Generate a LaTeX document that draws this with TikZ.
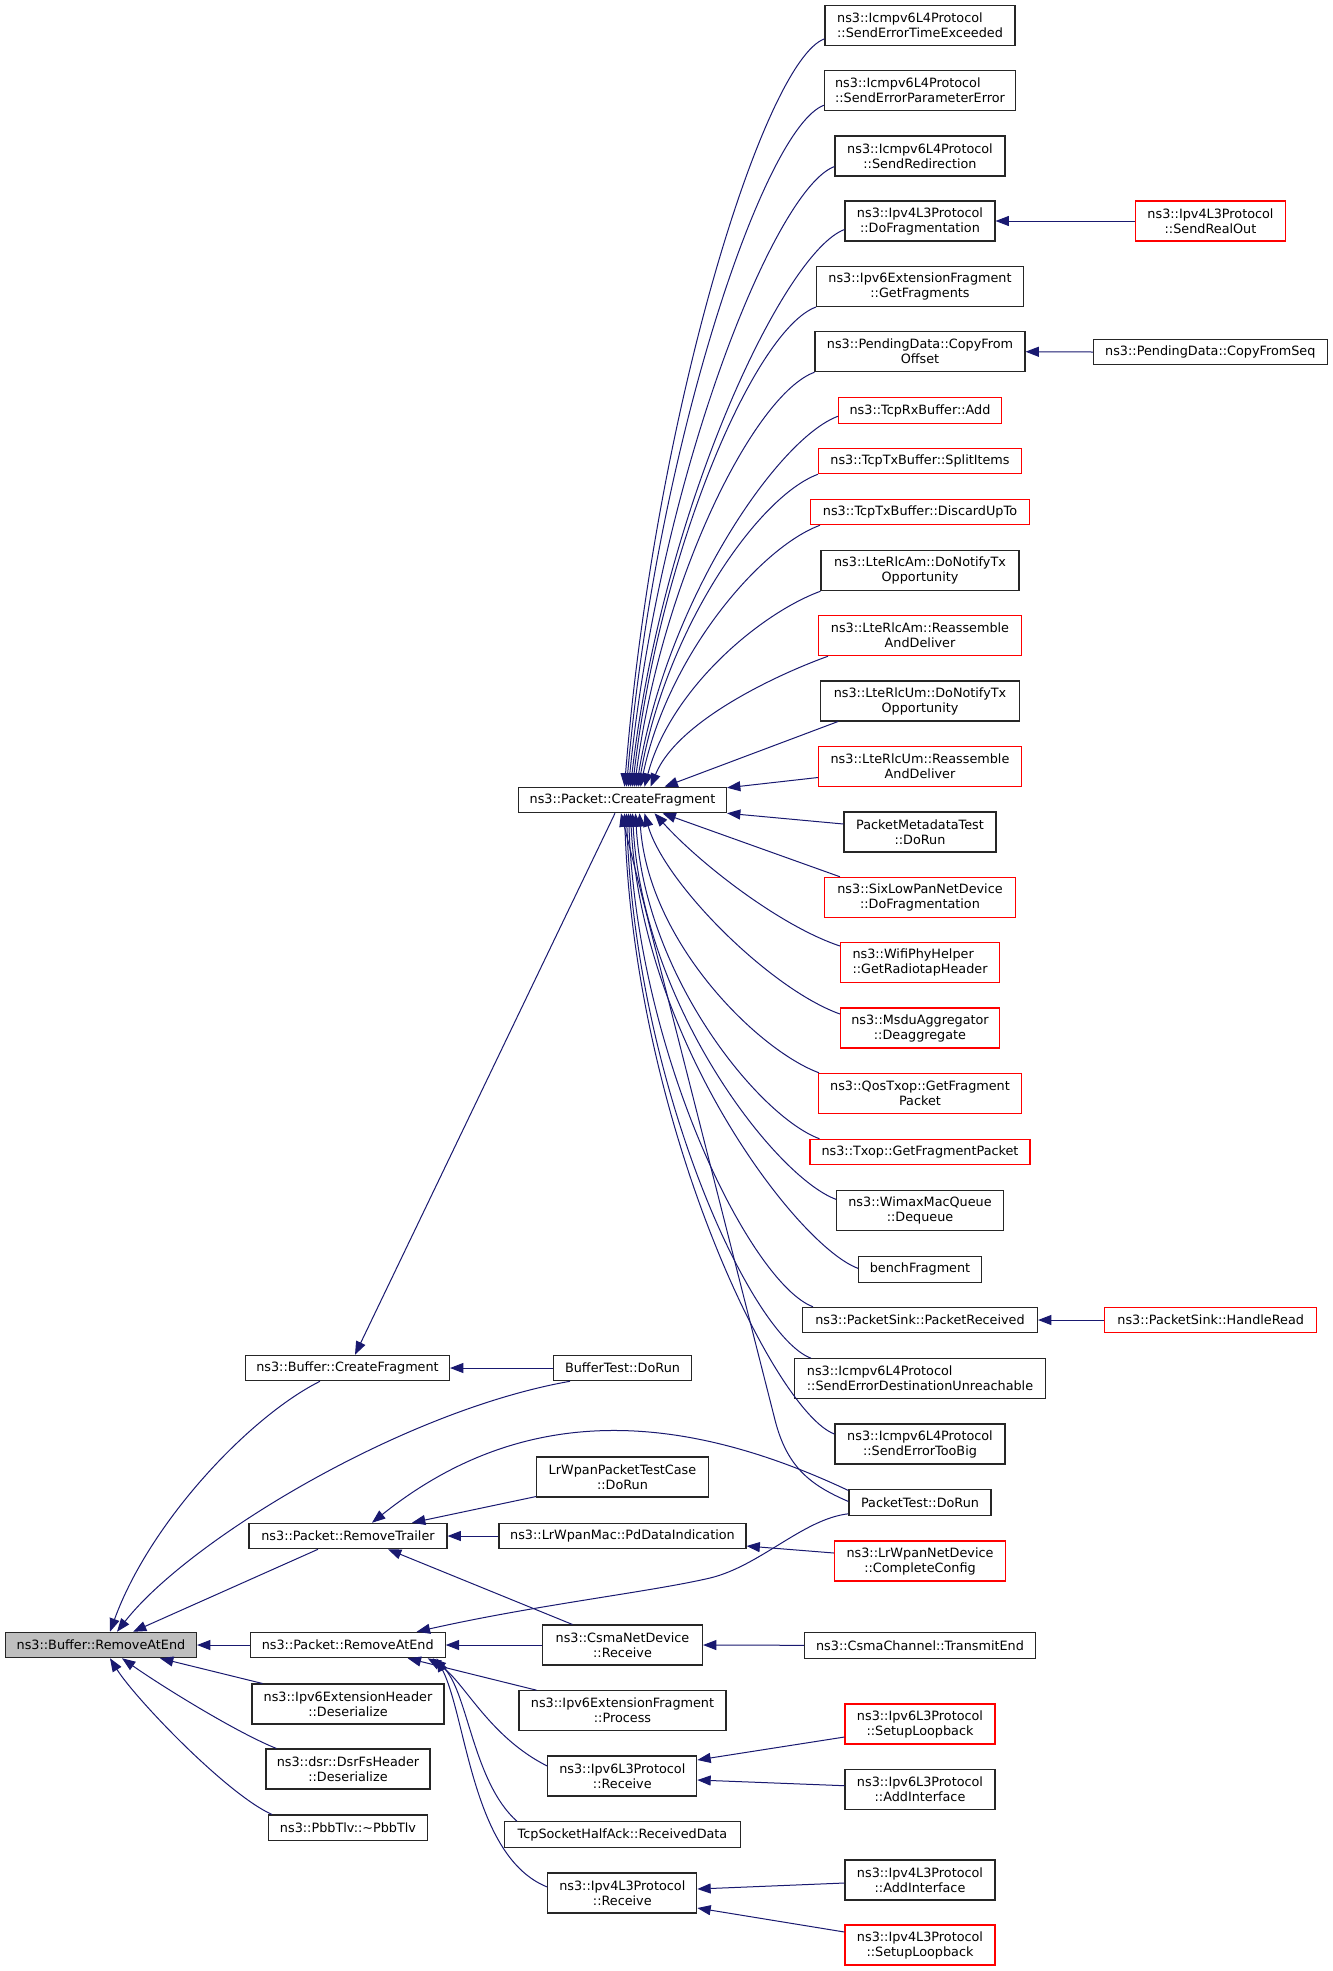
\documentclass[tikz,border=0pt]{standalone}
\usepackage{fontspec}
\setmainfont{DejaVu Sans}
\usetikzlibrary{arrows.meta,calc}
\definecolor{mblue}{RGB}{25,25,112}
\definecolor{nred}{RGB}{255,0,0}
\newcommand\gfont{\fontsize{9.6pt}{11.25pt}\selectfont}
\begin{document}
\begin{tikzpicture}[x=0.75pt,y=-0.75pt,
  nbox/.style={draw=black!85,line width=0.8pt,fill=white,inner sep=0pt,minimum height=19.1pt,font=\gfont,align=center,text=black},
  two/.style={minimum height=30pt},
  bw/.style={minimum width=#1*0.75pt},
  redb/.style={draw=nred},
  lft/.style={align=left},
  conn/.style={draw=mblue,line width=0.75pt,>={Triangle[length=10pt,width=7.5pt]},<-}]
\path[use as bounding box,fill=white] (0,0) rectangle (1333,1971);

% column 0
\node[nbox,bw=191,fill=black!25] (rae) at (101,1645) {ns3::Buffer::RemoveAtEnd};

% column 1
\node[nbox,bw=204] (bcf) at (347.5,1368) {ns3::Buffer::CreateFragment};
\node[nbox,bw=198] (rtr) at (348,1536) {ns3::Packet::RemoveTrailer};
\node[nbox,bw=195] (prae) at (347.7,1645) {ns3::Packet::RemoveAtEnd};
\node[nbox,two,bw=192] (v6eh) at (348,1704) {ns3::Ipv6ExtensionHeader\\::Deserialize};
\node[nbox,two,bw=164] (dsr) at (348,1769) {ns3::dsr::DsrFsHeader\\::Deserialize};
\node[nbox,bw=159] (pbb) at (348,1827.7) {ns3::PbbTlv::\textasciitilde PbbTlv};

% column 2
\node[nbox,bw=208] (pcf) at (622.5,800) {ns3::Packet::CreateFragment};
\node[nbox,bw=138] (btest) at (622.5,1368) {BufferTest::DoRun};
\node[nbox,two,bw=172] (lrtc) at (622.5,1477) {LrWpanPacketTestCase\\::DoRun};
\node[nbox,bw=247] (pdi) at (622.5,1536) {ns3::LrWpanMac::PdDataIndication};
\node[nbox,two,bw=160] (csma) at (622.5,1645) {ns3::CsmaNetDevice\\::Receive};
\node[nbox,two,bw=207] (v6fp) at (622.5,1710.7) {ns3::Ipv6ExtensionFragment\\::Process};
\node[nbox,two,bw=149] (v6r) at (622.3,1776) {ns3::Ipv6L3Protocol\\::Receive};
\node[nbox,bw=236] (tcpha) at (622.5,1834.5) {TcpSocketHalfAck::ReceivedData};
\node[nbox,two,bw=149] (v4r) at (622.3,1893) {ns3::Ipv4L3Protocol\\::Receive};

% column 3
\node[nbox,two,lft,bw=190] (tex) at (920,25.3) {ns3::Icmpv6L4Protocol\\::SendErrorTimeExceeded};
\node[nbox,two,lft,bw=191] (par) at (920,90.7) {ns3::Icmpv6L4Protocol\\::SendErrorParameterError};
\node[nbox,two,bw=170] (redir) at (920,156) {ns3::Icmpv6L4Protocol\\::SendRedirection};
\node[nbox,two,bw=150] (dofrag) at (920,221) {ns3::Ipv4L3Protocol\\::DoFragmentation};
\node[nbox,two,bw=207] (getfrag) at (920,286.5) {ns3::Ipv6ExtensionFragment\\::GetFragments};
\node[nbox,two,bw=210] (copyoff) at (920,351.7) {ns3::PendingData::CopyFrom\\Offset};
\node[nbox,redb,bw=163] (tcprx) at (920,410.5) {ns3::TcpRxBuffer::Add};
\node[nbox,redb,bw=203] (split) at (920,461) {ns3::TcpTxBuffer::SplitItems};
\node[nbox,redb,bw=219] (discard) at (920,512) {ns3::TcpTxBuffer::DiscardUpTo};
\node[nbox,two,bw=198] (amtx) at (920,570.7) {ns3::LteRlcAm::DoNotifyTx\\Opportunity};
\node[nbox,two,redb,bw=203] (amre) at (920,635.7) {ns3::LteRlcAm::Reassemble\\AndDeliver};
\node[nbox,two,bw=199] (umtx) at (920,701) {ns3::LteRlcUm::DoNotifyTx\\Opportunity};
\node[nbox,two,redb,bw=203] (umre) at (920,766.5) {ns3::LteRlcUm::Reassemble\\AndDeliver};
\node[nbox,two,bw=152] (pmt) at (920,832) {PacketMetadataTest\\::DoRun};
\node[nbox,two,redb,bw=191] (six) at (920,897.3) {ns3::SixLowPanNetDevice\\::DoFragmentation};
\node[nbox,two,redb,lft,bw=159] (wifi) at (920,962.7) {ns3::WifiPhyHelper\\::GetRadiotapHeader};
\node[nbox,two,redb,bw=159] (msdu) at (920,1028) {ns3::MsduAggregator\\::Deaggregate};
\node[nbox,two,redb,bw=203] (qos) at (920,1093.3) {ns3::QosTxop::GetFragment\\Packet};
\node[nbox,redb,bw=220] (txop) at (920,1152) {ns3::Txop::GetFragmentPacket};
\node[nbox,two,bw=167] (wimax) at (920,1210.3) {ns3::WimaxMacQueue\\::Dequeue};
\node[nbox,bw=123] (bench) at (920,1269.3) {benchFragment};
\node[nbox,bw=235] (sink) at (920,1320) {ns3::PacketSink::PacketReceived};
\node[nbox,two,lft,bw=251] (dest) at (920,1378.7) {ns3::Icmpv6L4Protocol\\::SendErrorDestinationUnreachable};
\node[nbox,two,bw=170] (toobig) at (920,1444) {ns3::Icmpv6L4Protocol\\::SendErrorTooBig};
\node[nbox,bw=142] (ptest) at (920,1502.5) {PacketTest::DoRun};
\node[nbox,two,redb,bw=171] (cc) at (920,1561) {ns3::LrWpanNetDevice\\::CompleteConfig};
\node[nbox,bw=231] (cte) at (920,1645.3) {ns3::CsmaChannel::TransmitEnd};
\node[nbox,two,redb,bw=150] (v6sl) at (920,1724) {ns3::Ipv6L3Protocol\\::SetupLoopback};
\node[nbox,two,bw=150] (v6ai) at (920,1789.3) {ns3::Ipv6L3Protocol\\::AddInterface};
\node[nbox,two,bw=150] (v4ai) at (920,1880) {ns3::Ipv4L3Protocol\\::AddInterface};
\node[nbox,two,redb,bw=150] (v4sl) at (920,1945) {ns3::Ipv4L3Protocol\\::SetupLoopback};

% column 4
\node[nbox,two,redb,bw=150] (sro) at (1210.5,221) {ns3::Ipv4L3Protocol\\::SendRealOut};
\node[nbox,bw=234] (cfs) at (1210.3,352) {ns3::PendingData::CopyFromSeq};
\node[nbox,redb,bw=212] (hr) at (1210.7,1320) {ns3::PacketSink::HandleRead};

% ---- connectors into RemoveAtEnd
\draw[conn] ($(rae.north)+(9,0)$) .. controls +(40,-110) and +(-70,35) .. ($(bcf.south)+(-27.5,0)$);
\draw[conn] ($(rae.north)+(16,0)$) .. controls +(70,-90) and +(-170,30) .. ($(btest.south)+(-52.5,0)$);
\draw[conn] ($(rae.north)+(32,0)$) -- ($(rtr.south)+(-30,0)$);
\draw[conn] (rae.east) -- (prae.west);
\draw[conn] ($(rae.south)+(59,0)$) -- ($(v6eh.north west)+(11,0)$);
\draw[conn] ($(rae.south)+(21,0)$) .. controls +(40,28) and +(-40,-16) .. ($(dsr.north west)+(11,0)$);
\draw[conn] ($(rae.south)+(9,0)$) .. controls +(25,40) and +(-45,-20) .. ($(pbb.north west)+(4,0)$);

% ---- Buffer::CreateFragment
\draw[conn] ($(bcf.north)+(7.5,0)$) -- ($(pcf.south)+(-7.5,0)$);
\draw[conn] (bcf.east) -- (btest.west);

% ---- Packet::RemoveTrailer
\draw[conn] ($(rtr.north)+(24,0)$) .. controls +(150,-120) and +(-170,-80) .. ($(ptest.west)+(0,-12)$);
\draw[conn] ($(rtr.north)+(64,0)$) -- ($(lrtc.south west)+(0,-1)$);
\draw[conn] (rtr.east) -- (pdi.west);
\draw[conn] ($(rtr.south)+(40,0)$) -- ($(csma.north)+(-50,0)$);
\draw[conn] ($(pdi.east)+(0,10)$) -- ($(cc.west)+(0,-8)$);

% ---- Packet::RemoveAtEnd
\draw[conn] ($(prae.north)+(69,0)$) .. controls +(120,-27) and +(-60,14) .. (710,1578)
  .. controls +(50,-12) and +(-45,5) .. ($(ptest.south west)+(0,-2)$);
\draw[conn] (prae.east) -- (csma.west);
\draw[conn] ($(prae.south)+(60,0)$) -- ($(v6fp.north west)+(18,0)$);
\draw[conn] ($(prae.south)+(80,0)$) .. controls +(35,20) and +(-60,-30) .. ($(v6r.west)+(0,-10)$);
\draw[conn] ($(prae.south)+(85,0)$) .. controls +(35,30) and +(-45,-40) .. ($(tcpha.north west)+(13,0)$);
\draw[conn] ($(prae.south)+(89,0)$) .. controls +(30,60) and +(-75,-30) .. ($(v4r.west)+(0,-6)$);

% ---- column 2 -> column 3 (simple)
\draw[conn] (csma.east) -- (cte.west);
\draw[conn] ($(v6r.east)+(0,-16)$) -- ($(v6sl.west)+(0,13)$);
\draw[conn] ($(v6r.east)+(0,4)$) -- ($(v6ai.west)+(0,-3.6)$);
\draw[conn] ($(v4r.east)+(0,-4)$) -- ($(v4ai.west)+(0,3)$);
\draw[conn] ($(v4r.east)+(0,15)$) -- ($(v4sl.west)+(0,-13)$);

% ---- column 3 -> column 4
\draw[conn] (dofrag.east) -- (sro.west);
\draw[conn] (copyoff.east) -- (cfs.west);
\draw[conn] (sink.east) -- (hr.west);

% ---- fan of Packet::CreateFragment (upper)
\draw[conn] ($(pcf.north)+(2,0)$) .. controls +(30,-374) and +(-60,22) .. ($(tex.south west)+(0,-7)$);
\draw[conn] ($(pcf.north)+(4,0)$) .. controls +(30,-341) and +(-60,22) .. ($(par.south west)+(0,-6)$);
\draw[conn] ($(pcf.north)+(6,0)$) .. controls +(31,-310) and +(-60,22) .. ($(redir.south west)+(0,-10)$);
\draw[conn] ($(pcf.north)+(8,0)$) .. controls +(32,-279) and +(-60,22) .. ($(dofrag.south west)+(0,-12)$);
\draw[conn] ($(pcf.north)+(10,0)$) .. controls +(28,-240) and +(-60,22) .. (getfrag.south west);
\draw[conn] ($(pcf.north)+(12,0)$) .. controls +(27,-208) and +(-60,22) .. (copyoff.south west);
\draw[conn] ($(pcf.north)+(14,0)$) .. controls +(30,-186) and +(-60,22) .. ($(tcprx.south west)+(0,-7.5)$);
\draw[conn] ($(pcf.north)+(16,0)$) .. controls +(27,-157) and +(-60,22) .. (split.south west);
\draw[conn] ($(pcf.north)+(18,0)$) .. controls +(27,-131) and +(-60,22) .. ($(discard.south west)+(10,0)$);
\draw[conn] ($(pcf.north)+(22,0)$) .. controls +(26,-98) and +(-60,22) .. (amtx.south west);
\draw[conn] ($(pcf.north)+(28,0)$) .. controls +(27,-66) and +(-50,18) .. ($(amre.south west)+(10,0)$);
\draw[conn] ($(pcf.north)+(42,0)$) -- ($(umtx.south west)+(18,0)$);
\draw[conn] ($(pcf.north east)+(0,1)$) -- ($(umre.west)+(0,11)$);

% ---- fan of Packet::CreateFragment (lower)
\draw[conn] (pcf.south east) -- ($(pmt.west)+(0,-8)$);
\draw[conn] ($(pcf.south)+(40,0)$) -- ($(six.north west)+(16,0)$);
\draw[conn] ($(pcf.south)+(32,0)$) .. controls +(45,50) and +(-60,-20) .. ($(wifi.west)+(0,-16.7)$);
\draw[conn] ($(pcf.south)+(22,0)$) .. controls +(20,70) and +(-70,-25) .. ($(msdu.west)+(0,-14)$);
\draw[conn] ($(pcf.south)+(17,0)$) .. controls +(9,130) and +(-60,-22) .. ($(qos.north west)+(1,0)$);
\draw[conn] ($(pcf.south)+(13,0)$) .. controls +(9,163) and +(-60,-22) .. ($(txop.north west)+(10,0)$);
\draw[conn] ($(pcf.south)+(10,0)$) .. controls +(10,193) and +(-60,-22) .. ($(wimax.west)+(0,-11)$);
\draw[conn] ($(pcf.south)+(8,0)$) .. controls +(11,228) and +(-60,-22) .. ($(bench.west)+(0,-1)$);
\draw[conn] ($(pcf.south)+(6,0)$) .. controls +(9,247) and +(-60,-22) .. ($(sink.north west)+(11,0)$);
\draw[conn] ($(pcf.south)+(4,0)$) .. controls +(9,273) and +(-60,-22) .. ($(dest.north west)+(17,0)$);
\draw[conn] ($(pcf.south)+(2,0)$) .. controls +(10,311) and +(-60,-22) .. ($(toobig.west)+(0,-10)$);
\draw[conn] ($(pcf.south)+(-1.5,0)$) -- (775,1420) .. controls (787,1467) and (810,1485) .. ($(ptest.west)+(0,-1)$);
\end{tikzpicture}
\end{document}
